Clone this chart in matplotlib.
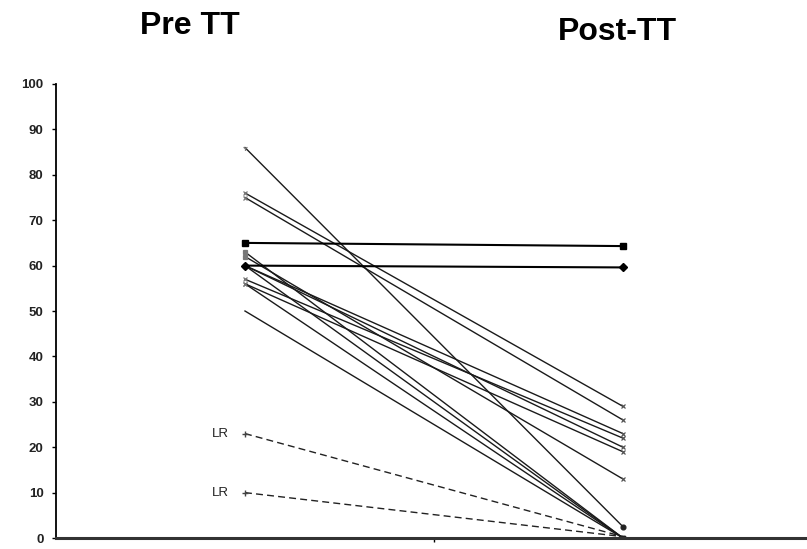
import matplotlib
matplotlib.use("Agg")
import matplotlib.pyplot as plt

plt.rcParams['font.family'] = ['Liberation Sans', 'DejaVu Sans']

# category positions on the x axis
stages = ["Pre TT", "Post-TT"]

# solid lines: pre value, post value, end marker
pre_vals = [86, 76, 75, 63, 62, 60, 60, 60, 57, 56, 56, 50]
post_vals = [2.5, 29, 26, 0, 13, 23, 20, 0, 22, 19, 0, 0]
pre_marks = ['1', 'x', 'x', 's', 's', 's', 's', 's', 'x', 'x', 'x', '']
post_marks = ['o', 'x', 'x', 's', 'x', 'x', 'x', 's', 'x', 'x', 's', 's']

# flat lines
flat_pre = [65, 60]
flat_post = [64.3, 59.6]
flat_marks = ['s', 'D']

# dashed LR lines
lr_pre = [23, 10]
lr_post = [0.3, 0.3]
lr_label = "LR"

fig = plt.figure(figsize=(8.07, 5.49), dpi=100)
ax = fig.add_axes([0.0694, 0.020, 0.9306, 0.827])

for a, b, m1, m2 in zip(pre_vals, post_vals, pre_marks, post_marks):
    ax.plot([1, 2], [a, b], color='#1a1a1a', lw=1.0)
    if m1:
        ax.plot(1, a, marker=m1, color='#777777', ms=3.5, mew=0.9)
    ax.plot(2, b, marker=m2, color='#555555' if m2 == 'x' else '#222222',
            ms=3.5, mew=0.9)

for a, b, m in zip(flat_pre, flat_post, flat_marks):
    ax.plot([1, 2], [a, b], color='black', lw=1.5, marker=m, ms=4)

for a, b in zip(lr_pre, lr_post):
    ax.plot([1, 2], [a, b], color='#222222', lw=1.0, ls=(0, (5, 3)))
    ax.plot(1, a, marker='+', color='#444444', ms=4)
    ax.text(0.935, a, lr_label, ha='center', va='center', fontsize=9.5, color='#222222')

ax.set_xlim(0.5, 2.487)
ax.set_ylim(0, 100)
ax.set_yticks(range(0, 101, 10))
ax.tick_params(axis='y', length=3, width=1, pad=6, labelsize=9.5)
for lab in ax.get_yticklabels():
    lab.set_fontweight('bold')
    lab.set_color('#222222')
ax.set_xticks([1.5])
ax.set_xticklabels([])
ax.tick_params(axis='x', length=3, width=1)

for s in ['top', 'right']:
    ax.spines[s].set_visible(False)
ax.spines['left'].set_linewidth(1.3)
ax.spines['bottom'].set_linewidth(2.2)
ax.spines['bottom'].set_color('#333333')

fig.text(190 / 807, 1 - 26 / 549, stages[0], ha='center', va='center',
         fontsize=23, fontweight='bold')
fig.text(617 / 807, 1 - 32 / 549, stages[1], ha='center', va='center',
         fontsize=23, fontweight='bold')

fig.savefig("out.png", dpi=100)
